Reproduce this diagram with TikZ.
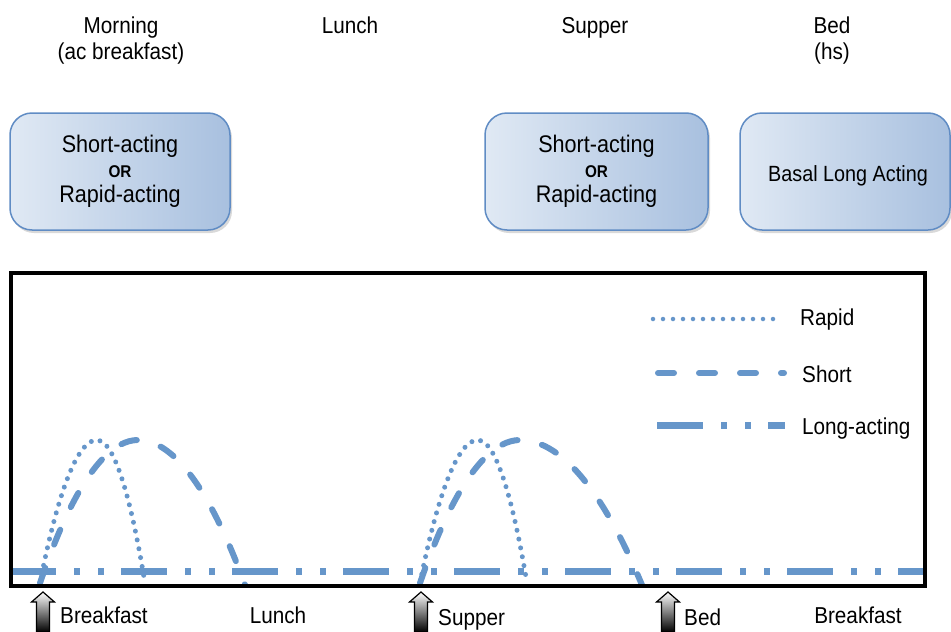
\documentclass[tikz,border=0pt]{standalone}
\usepackage{fontspec}
\setmainfont{Liberation Sans}[FakeStretch=0.9]
\usetikzlibrary{shadows}

\definecolor{insulin}{RGB}{102,150,202}
\definecolor{boxline}{RGB}{96,140,196}
\definecolor{boxlight}{RGB}{224,233,244}
\definecolor{boxdark}{RGB}{168,192,223}

\tikzset{
  mealarrow/.pic={
    \draw[line width=1.2pt, top color=white, bottom color=black]
      (-6.5,0) -- (-6.5,-30) -- (-11.5,-30) -- (0,-40) -- (11.5,-30) -- (6.5,-30) -- (6.5,0) -- cycle;
  }
}

\begin{document}
\begin{tikzpicture}[x=1pt, y=-1pt, font=\fontsize{23}{26}\selectfont,
    dose/.style={draw=boxline, line width=1.5pt, rounded corners=22pt,
      left color=boxlight, right color=boxdark, minimum height=117pt, align=center,
      font=\fontsize{24}{25}\selectfont,
      drop shadow={shadow xshift=2pt, shadow yshift=-3pt, opacity=0.3}},
    rapidline/.style={insulin, line width=5pt, line cap=round, dash pattern=on 0pt off 9pt},
    shortline/.style={insulin, line width=6pt, line cap=round, dash pattern=on 16pt off 25pt},
    longline/.style={insulin, line width=7pt, dash pattern=on 46pt off 18pt on 6pt off 18pt on 6pt off 17pt},
    lbl/.style={anchor=base, inner sep=0pt}]
    \useasboundingbox (0,0) rectangle (951,632);

    % times of day
    \node[lbl] (morning) at (121,33) {Morning};
    \node[lbl] (ac) at (121,59) {(ac breakfast)};
    \node[lbl] (lunch) at (350,33) {Lunch};
    \node[lbl] (supper) at (595,33) {Supper};
    \node[lbl] (bed) at (832,33) {Bed};
    \node[lbl] (hs) at (832,59) {(hs)};

    % doses
    \node[dose, minimum width=220pt] (dose1) at (120,171.5)
      {Short-acting\\{\fontsize{17}{20}\selectfont\bfseries OR}\\Rapid-acting};
    \node[dose, minimum width=223pt] (dose2) at (596.5,171.5)
      {Short-acting\\{\fontsize{17}{20}\selectfont\bfseries OR}\\Rapid-acting};
    \node[dose, minimum width=210pt, font=\fontsize{22}{25}\selectfont] (dose3) at (845,171.5)
      {\raisebox{-4pt}[\height][\depth]{\hspace*{6pt}Basal Long Acting}};

    % action curves
    \draw[longline] (10,571) -- (925,571);
    \draw[rapidline] (40,583) parabola bend (97,440) (145,583);
    \draw[shortline] (40,583) parabola bend (138,440) (245,585);
    \draw[rapidline] (420,583) parabola bend (478,440) (527,583);
    \draw[shortline] (420,583) parabola bend (520,440) (642,585);

    \draw[line width=3.5pt] (11,273) rectangle (925,586);

    % legend
    \draw[rapidline, line width=4.5pt, dash pattern=on 0pt off 10pt] (653,319) -- (775,319);
    \node[anchor=base west, inner sep=0pt] (rapid) at (800,325) {Rapid};
    \draw[shortline] (658,373) -- (784,373);
    \node[anchor=base west, inner sep=0pt] (short) at (802,382) {Short};
    \draw[longline] (657,425) -- (785,425);
    \node[anchor=base west, inner sep=0pt] (long) at (802,434) {Long-acting};

    % meals
    \pic at (43,632) {mealarrow};
    \pic at (421,632) {mealarrow};
    \pic at (668,632) {mealarrow};
    \node[lbl, anchor=base west] (bkf) at (60,623) {Breakfast};
    \node[lbl] (lunch2) at (278,623) {Lunch};
    \node[lbl, anchor=base west] (sup) at (438,625) {Supper};
    \node[lbl, anchor=base west] (bed2) at (684,625) {Bed};
    \node[lbl] (bkf2) at (858,623) {Breakfast};
\end{tikzpicture}
\end{document}
